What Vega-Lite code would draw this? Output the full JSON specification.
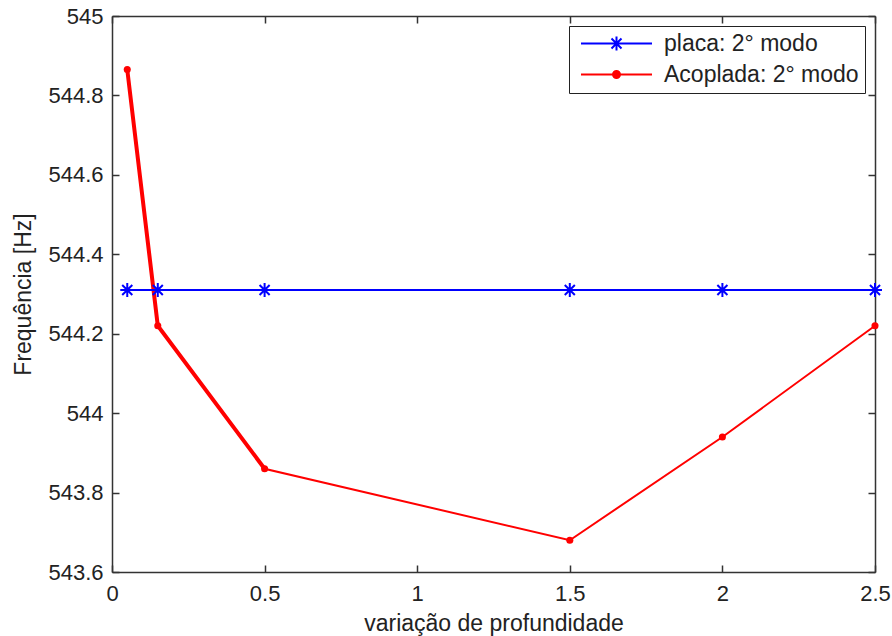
{
  "$schema": "https://vega.github.io/schema/vega-lite/v6.json",
  "width": 763,
  "height": 556,
  "autosize": {"type": "none"},
  "padding": {"left": 112, "top": 16, "right": 17, "bottom": 64},
  "background": "white",
  "config": {
    "font": "Liberation Sans",
    "view": {"stroke": null},
    "axis": {
      "grid": false,
      "domainColor": "#333333",
      "domainWidth": 1.5,
      "tickColor": "#333333",
      "tickWidth": 1.5,
      "tickSize": -7,
      "labelFlush": false,
      "labelFontSize": 22,
      "labelColor": "#222222",
      "titleFontSize": 23,
      "titleFontWeight": "normal",
      "titleColor": "#222222",
      "labelFont": "Liberation Sans",
      "titleFont": "Liberation Sans"
    }
  },
  "data": {
    "values": [
      {"x": 0.05, "y": 544.31, "s": "placa: 2° modo"},
      {"x": 0.15, "y": 544.31, "s": "placa: 2° modo"},
      {"x": 0.5, "y": 544.31, "s": "placa: 2° modo"},
      {"x": 1.5, "y": 544.31, "s": "placa: 2° modo"},
      {"x": 2.0, "y": 544.31, "s": "placa: 2° modo"},
      {"x": 2.5, "y": 544.31, "s": "placa: 2° modo"},
      {"x": 0.05, "y": 544.865, "s": "Acoplada: 2° modo"},
      {"x": 0.15, "y": 544.22, "s": "Acoplada: 2° modo"},
      {"x": 0.5, "y": 543.86, "s": "Acoplada: 2° modo"},
      {"x": 1.5, "y": 543.68, "s": "Acoplada: 2° modo"},
      {"x": 2.0, "y": 543.94, "s": "Acoplada: 2° modo"},
      {"x": 2.5, "y": 544.22, "s": "Acoplada: 2° modo"}
    ]
  },
  "resolve": {"axis": {"x": "independent", "y": "independent"}},
  "layer": [
    {
      "mark": {"type": "line", "strokeWidth": 2},
      "encoding": {
        "x": {"field": "x", "type": "quantitative", "scale": {"domain": [0, 2.5], "nice": false},
          "axis": {"orient": "bottom", "values": [0, 0.5, 1, 1.5, 2, 2.5], "format": "~f", "labelPadding": 18, "title": "variação de profundidade", "titlePadding": 8}},
        "y": {"field": "y", "type": "quantitative", "scale": {"domain": [543.6, 545], "nice": false, "zero": false},
          "axis": {"orient": "left", "values": [543.6, 543.8, 544, 544.2, 544.4, 544.6, 544.8, 545], "format": "~f", "labelPadding": 16, "title": "Frequência [Hz]", "titlePadding": 12}},
        "color": {"field": "s", "type": "nominal",
          "scale": {"domain": ["placa: 2° modo", "Acoplada: 2° modo"], "range": ["#0000FF", "#FF0000"]},
          "legend": {
            "title": null,
            "orient": "top-right",
            "offset": 10,
            "padding": 6,
            "strokeColor": "#222222",
            "fillColor": "white",
            "labelFontSize": 23,
            "labelFont": "Liberation Sans",
            "labelColor": "#222222",
            "labelLimit": 400,
            "symbolSize": 400,
            "symbolStrokeWidth": 2,
            "symbolOffset": 30,
            "labelOffset": 36,
            "rowPadding": 7,
            "encode": {
              "symbols": {
                "update": {
                  "shape": [
                    {"test": "datum.value === 'placa: 2° modo'", "value": "M-3.55,0H3.55M0,-0.7V0.7M-0.5,-0.5L0.5,0.5M-0.5,0.5L0.5,-0.5"},
                    {"value": "M-3.55,0H3.55M-0.35,0A0.35,0.35 0 1,0 0.35,0A0.35,0.35 0 1,0 -0.35,0Z"}
                  ],
                  "fill": [
                    {"test": "datum.value === 'placa: 2° modo'", "value": "transparent"},
                    {"value": "#FF0000"}
                  ],
                  "fillOpacity": {"value": 1}
                }
              }
            }
          }}
      }
    },
    {
      "transform": [{"filter": "datum.s === 'Acoplada: 2° modo' && datum.x <= 0.5"}],
      "mark": {"type": "line", "strokeWidth": 4, "color": "#FF0000"},
      "encoding": {
        "x": {"field": "x", "type": "quantitative", "axis": null},
        "y": {"field": "y", "type": "quantitative", "axis": null}
      }
    },
    {
      "transform": [{"filter": "datum.s === 'placa: 2° modo'"}],
      "mark": {"type": "point", "shape": "M0,-1V1M-1,0H1M-0.72,-0.72L0.72,0.72M-0.72,0.72L0.72,-0.72", "filled": false, "stroke": "#0000FF", "strokeWidth": 2, "size": 196, "opacity": 1},
      "encoding": {
        "x": {"field": "x", "type": "quantitative", "axis": null},
        "y": {"field": "y", "type": "quantitative", "axis": null}
      }
    },
    {
      "transform": [{"filter": "datum.s === 'Acoplada: 2° modo'"}],
      "mark": {"type": "point", "shape": "circle", "filled": true, "color": "#FF0000", "size": 50, "opacity": 1},
      "encoding": {
        "x": {"field": "x", "type": "quantitative", "axis": null},
        "y": {"field": "y", "type": "quantitative", "axis": null}
      }
    },
    {
      "mark": {"type": "point", "opacity": 0},
      "encoding": {
        "x": {"field": "x", "type": "quantitative", "axis": {"orient": "top", "values": [0, 0.5, 1, 1.5, 2, 2.5], "labels": false, "title": null}},
        "y": {"field": "y", "type": "quantitative", "axis": {"orient": "right", "values": [543.6, 543.8, 544, 544.2, 544.4, 544.6, 544.8, 545], "labels": false, "title": null}}
      }
    }
  ]
}
